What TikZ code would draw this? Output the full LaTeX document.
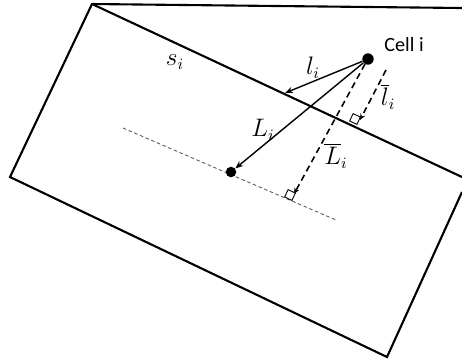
\documentclass[tikz,border=0pt]{standalone}
\usepackage{fontspec}
\newfontfamily\cellfont{Carlito}
\usetikzlibrary{arrows.meta,calc}

\begin{document}
\begin{tikzpicture}[x=0.02cm, y=-0.02cm,
    wall/.style={line width=1.2pt, line join=miter},
    arr/.style={-{Stealth[length=4.5pt,width=3.6pt]}, line width=0.8pt},
    perp/.style={-{Stealth[length=3.5pt,width=3pt]}, line width=0.9pt, dash pattern=on 3.6pt off 2.4pt},
    guide/.style={line width=0.5pt, black!65, dash pattern=on 2pt off 1.5pt},
    rangle/.style={rectangle, draw, fill=white, line width=0.5pt, minimum size=4.6pt, inner sep=0pt, rotate=-25},
    dot/.style={circle, fill, inner sep=0pt, minimum size=6.5pt},
    lbl/.style={font=\fontsize{13.5}{15}\selectfont, inner sep=0pt}
]
\useasboundingbox (0,0) rectangle (462,360);

% outline
\coordinate (tl) at (92,4);
\coordinate (tr) at (462,8);
\coordinate (bl) at (10,177);
\coordinate (br) at (387,357);
\coordinate (rr) at (462,192);
\coordinate (rd) at (462,177);
\draw[wall] (tr) -- (tl) -- (bl) -- (br) -- (rr);
\draw[wall] (tl) -- (rd);

% guide line through the centre
\coordinate (g1) at (123,128);
\coordinate (g2) at (336,220);
\draw[guide] (g1) -- (g2);

% points
\node[dot] (cell) at (368,59) {};
\node[dot, minimum size=6pt] (ctr) at (231,172) {};
\node[font=\cellfont\fontsize{11.5}{13}\selectfont, anchor=west, inner sep=0pt] (celllbl) at (384,45) {Cell i};

% distances
\coordinate (hit) at (285,93);
\draw[arr] (cell) -- (hit);
\draw[arr] (cell) -- (ctr);

\coordinate (Ls) at (365,64);
\coordinate (Lf) at (294,194);
\coordinate (ls) at (386,70);
\coordinate (lf) at (360,120);
\draw[perp] (Ls) -- (Lf);
\draw[perp] (ls) -- (lf);
\node[rangle] (Lsq) at (290,195) {};
\node[rangle] (lsq) at (355,119) {};

% labels
\node[lbl] (slbl) at (175,62) {$s_i$};
\node[lbl] (llbl) at (313,68) {$l_i$};
\node[lbl] (Llbl) at (263,130) {$L_i$};
\node[lbl] (Lbar) at (336,156) {$\overline{L}_i$};
\node[lbl] (lbar) at (388,97) {$\overline{l}_i$};
\end{tikzpicture}
\end{document}
